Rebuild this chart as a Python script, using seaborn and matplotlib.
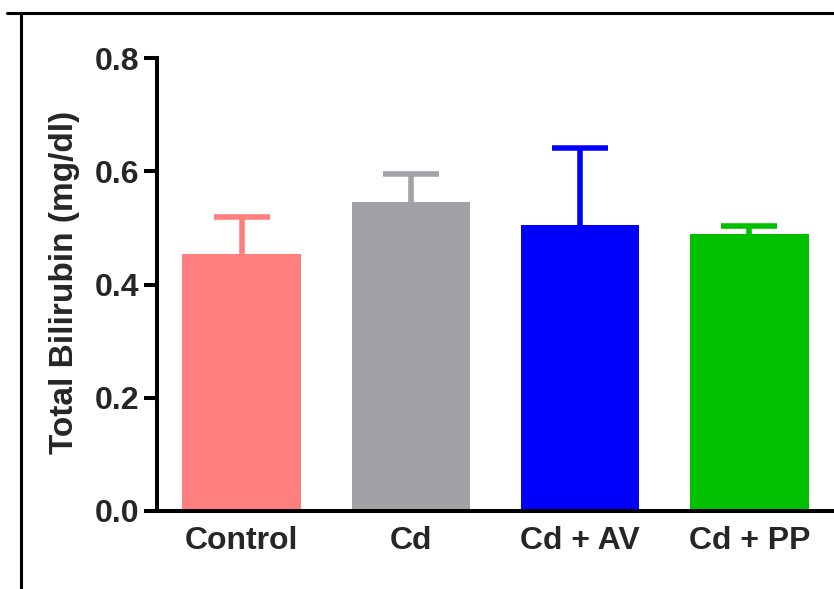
import numpy as np
import pandas as pd
import matplotlib
matplotlib.use("Agg")
import matplotlib.pyplot as plt
from matplotlib.lines import Line2D
import seaborn as sns

# Total bilirubin per treatment group (mean and upper SEM)
groups = ["Control", "Cd", "Cd + AV", "Cd + PP"]
means = [0.453, 0.545, 0.505, 0.490]
sem = [0.067, 0.050, 0.136, 0.014]
colors = ["#FF7F7F", "#A2A1A6", "#0000FF", "#00C000"]
y_ticks = [0.0, 0.2, 0.4, 0.6, 0.8]

sns.set_theme(style="ticks")
plt.rcParams["font.family"] = ["Liberation Sans", "DejaVu Sans"]
plt.rcParams["font.weight"] = "bold"

df = pd.DataFrame({"group": groups, "value": means})

fig = plt.figure(figsize=(8.34, 5.89), dpi=100)
ax = fig.add_axes([157 / 834, 1 - 511 / 589, 1 - 157 / 834, (511 - 58) / 589])

sns.barplot(data=df, x="group", y="value", hue="group", palette=colors,
            order=groups, hue_order=groups, width=0.7, legend=False,
            saturation=1, errorbar=None, linewidth=0, ax=ax)

# upper-only error bars in the colour of each bar
for i, (m, e, c) in enumerate(zip(means, sem, colors)):
    _, caps, _ = ax.errorbar(i, m, yerr=[[0], [e]], fmt="none", ecolor=c,
                             elinewidth=4.0, capsize=20.5, capthick=4.0,
                             zorder=1)
    for cap in caps:
        if np.isclose(cap.get_ydata()[0], m):
            cap.set_visible(False)

ax.set_xlim(-0.5, 3.5)
ax.set_ylim(0, 0.8)
ax.set_yticks(y_ticks)
ax.set_yticklabels([f"{t:.1f}" for t in y_ticks])
ax.set_xlabel("")
ax.set_ylabel("Total Bilirubin (mg/dl)", fontsize=24, fontweight="bold")
ax.yaxis.set_label_coords(-0.114, 0.504)

for side in ["top", "right"]:
    ax.spines[side].set_visible(False)
for side in ["left", "bottom"]:
    ax.spines[side].set_linewidth(2.9)
    ax.spines[side].set_color("black")
    ax.spines[side].set_capstyle("projecting")

ax.tick_params(axis="y", length=9.5, width=2.9, pad=3, labelsize=23, color="black")
ax.tick_params(axis="x", length=0, pad=11, labelsize=23)
for lbl in ax.get_xticklabels() + ax.get_yticklabels():
    lbl.set_fontweight("bold")
ax.set_facecolor("white")
fig.patch.set_facecolor("white")

# outer frame lines along the top and left
fig.add_artist(Line2D([7 / 834, 1], [1 - 12.5 / 589] * 2, color="black",
                      linewidth=2.2, transform=fig.transFigure))
fig.add_artist(Line2D([20.5 / 834] * 2, [0, 1 - 12.5 / 589], color="black",
                      linewidth=2.2, transform=fig.transFigure))

fig.savefig("out.png", dpi=100)
